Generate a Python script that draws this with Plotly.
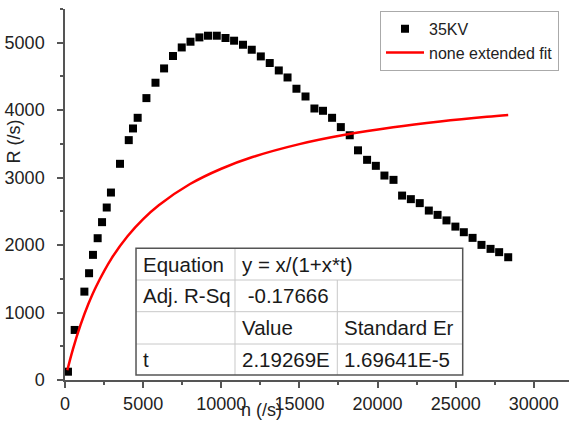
import plotly.graph_objects as go

# measured data (35KV)
n_vals = [190, 620, 1240, 1540, 1790, 2090, 2370, 2670, 2940, 3520, 4080, 4350, 4650, 5210,
          5790, 6340, 6910, 7470, 8030, 8600, 9150, 9710, 10270, 10820, 11390, 11950, 12530,
          13100, 13680, 14240, 14810, 15390, 15960, 16510, 17090, 17650, 18220, 18750, 19330,
          19890, 20440, 21020, 21570, 22130, 22700, 23280, 23840, 24410, 24980, 25520, 26080,
          26650, 27230, 27780, 28360]
r_vals = [123, 742, 1310, 1583, 1855, 2102, 2340, 2557, 2779, 3205, 3556, 3729, 3887, 4179,
          4407, 4619, 4803, 4930, 5015, 5079, 5104, 5104, 5070, 5030, 4970, 4896, 4797,
          4699, 4589, 4485, 4318, 4203, 4025, 3991, 3887, 3749, 3628, 3405, 3264,
          3175, 3031, 2967, 2734, 2681, 2622, 2512, 2448, 2366, 2274, 2191, 2107,
          2003, 1944, 1895, 1820]

# fit curve
fit_n = [150, 500, 1000, 1500, 2000, 3000, 4000, 5000, 6000, 8000, 10000, 12000, 15000,
         18000, 21000, 24000, 27000, 28360]
fit_r = [145, 451, 820, 1129, 1390, 1810, 2131, 2385, 2591, 2905, 3132, 3305, 3497,
         3639, 3747, 3832, 3902, 3929]

series_names = ["35KV", "none extended fit"]

# fit report table
table_rows = [
    ["Equation", "y = x/(1+x*t)", ""],
    ["Adj. R-Sq", " -0.17666", ""],
    ["", "Value", "Standard Er"],
    ["t", "2.19269E", "1.69641E-5"],
]

FONT = "Arial, 'Liberation Sans', sans-serif"

fig = go.Figure()
fig.add_trace(go.Scatter(
    x=n_vals, y=r_vals, mode="markers", name=series_names[0],
    marker=dict(symbol="square", size=8, color="black"),
))
fig.add_trace(go.Scatter(
    x=fit_n, y=fit_r, mode="lines", name=series_names[1],
    line=dict(color="#ff0000", width=2.5, shape="spline"),
))

# table geometry in paper coordinates
L, C1, C2, R = 0.1409, 0.3373, 0.5403, 0.7891
row_edges = [0.355, 0.2695, 0.1841, 0.097, 0.0135]
shapes = []
inner = dict(color="#c8c8c8", width=1)
shapes.append(dict(type="rect", xref="paper", yref="paper", x0=L, x1=R,
                   y0=row_edges[-1], y1=row_edges[0], fillcolor="white",
                   line=dict(width=0), layer="above"))
for yv in row_edges[1:-1]:
    shapes.append(dict(type="line", xref="paper", yref="paper", x0=L, x1=R, y0=yv, y1=yv,
                       line=inner, layer="above"))
shapes.append(dict(type="line", xref="paper", yref="paper", x0=C1, x1=C1,
                   y0=row_edges[-1], y1=row_edges[0], line=inner, layer="above"))
shapes.append(dict(type="line", xref="paper", yref="paper", x0=C2, x1=C2,
                   y0=row_edges[-1], y1=row_edges[1], line=inner, layer="above"))
shapes.append(dict(type="rect", xref="paper", yref="paper", x0=L, x1=R,
                   y0=row_edges[-1], y1=row_edges[0], fillcolor="rgba(0,0,0,0)",
                   line=dict(color="#555555", width=1.5), layer="above"))

annotations = []
col_x = [L, C1, C2]
for ri, row in enumerate(table_rows):
    yc = (row_edges[ri] + row_edges[ri + 1]) / 2
    for ci, txt in enumerate(row):
        if not txt:
            continue
        annotations.append(dict(
            x=col_x[ci], y=yc, xref="paper", yref="paper", text=txt, showarrow=False,
            xanchor="left", yanchor="middle", xshift=5,
            font=dict(family=FONT, size=20.5, color="#1a1a1a"),
        ))

# axis titles
annotations.append(dict(x=-0.102, y=0.6415, xref="paper", yref="paper", text="R (/s)",
                        textangle=-90, showarrow=False, xanchor="center", yanchor="middle",
                        font=dict(family=FONT, size=18, color="#222")))
annotations.append(dict(x=0.389, y=-0.1132, xref="paper", yref="paper", text="n (/s)",
                        showarrow=False, xanchor="center", yanchor="bottom",
                        font=dict(family=FONT, size=18, color="#222")))

axis_common = dict(
    showline=True, linecolor="#555555", linewidth=1.5, showgrid=False, zeroline=False,
    ticks="outside", tickcolor="#555555", tickwidth=1.5, ticklen=6, tickformat="d",
    tickfont=dict(family=FONT, size=18, color="#222"),
)

fig.update_layout(
    width=569, height=423,
    margin=dict(l=65, r=0, t=9, b=43),
    paper_bgcolor="white", plot_bgcolor="white",
    showlegend=True,
    legend=dict(x=0.625, y=0.995, xanchor="left", yanchor="top", itemwidth=38,
                bgcolor="white", bordercolor="#aaaaaa", borderwidth=1,
                font=dict(family=FONT, size=16, color="#222"),
                tracegroupgap=0),
    xaxis=dict(range=[0, 32250], tickmode="linear", tick0=0, dtick=5000,
               minor=dict(dtick=2500, ticks="outside", ticklen=3, tickcolor="#555555"),
               ticklabelstandoff=1, **axis_common),
    yaxis=dict(range=[0, 5500], tickmode="linear", tick0=0, dtick=1000,
               minor=dict(dtick=500, ticks="outside", ticklen=3, tickcolor="#555555"),
               ticklabelstandoff=9, **axis_common),
    shapes=shapes,
    annotations=annotations,
)

fig.write_html("out.html")
